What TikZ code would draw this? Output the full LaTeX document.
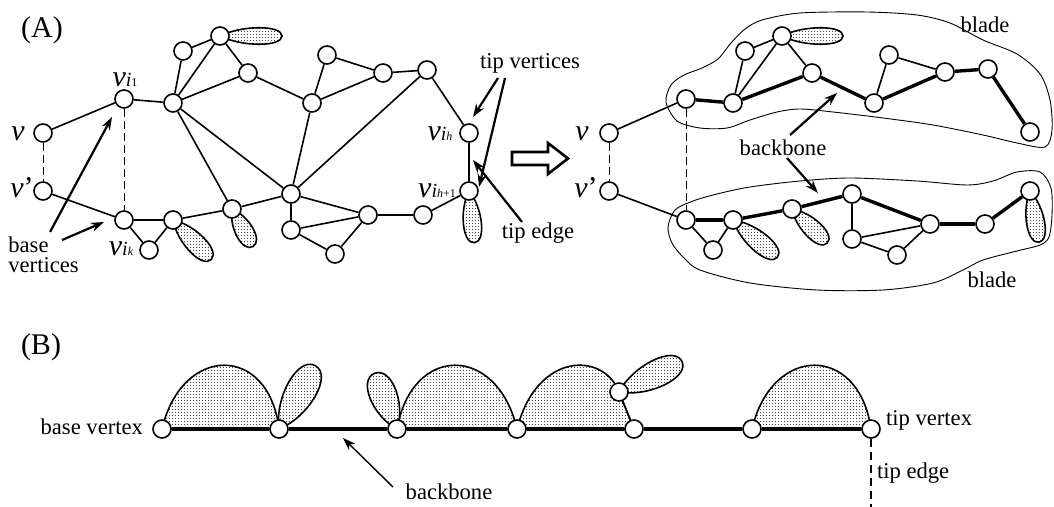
\documentclass[tikz,border=0pt]{standalone}
\usepackage{fontspec}
\setmainfont{Liberation Serif}
\usetikzlibrary{arrows.meta, backgrounds, patterns.meta}
\tikzstyle{pointer} = [line width=1.1pt,->,>={Stealth[length=6.5pt,width=4.5pt]}]
\tikzstyle{link} = [line width=0.8pt]
\tikzstyle{spine} = [line width=1.7pt]

\tikzdeclarepattern{
    name=finedots,
    type=uncolored,
    bottom left={(-0.1pt,-0.1pt)},
    top right={(1.6pt,1.6pt)},
    tile size={(1.5pt,1.5pt)},
    code={\fill (0.75pt,0.75pt) circle (0.28pt);}
}

\newcommand{\vbig}{\fontsize{15}{15}\selectfont\itshape}
\newcommand{\vsub}[1]{{\vbig v}{\fontsize{10}{10}\selectfont\itshape i}{\fontsize{6}{6}\selectfont #1}}
\newcommand{\petal}[4]{%
    \begin{scope}[shift={(#1.center)}, rotate=#2]
        \draw[blob] (0,0) .. controls (0.35*#3,#4) and (#3,#4) .. (#3,0)
            .. controls (#3,-#4) and (0.35*#3,-#4) .. (0,0) -- cycle;
    \end{scope}}

\begin{document}
\begin{tikzpicture}
        [
            x=0.5pt, y=-0.5pt,
            vtx/.style={circle,draw=black,line width=0.8pt,fill=white,inner sep=0pt,minimum size=9pt},
            blob/.style={draw=black,line width=0.8pt,pattern=finedots,pattern color=black!70},
            dashlink/.style={line width=0.5pt,dash pattern=on 4pt off 2pt},
            blade/.style={line width=0.45pt},
            lbl/.style={font=\fontsize{11.3}{10}\selectfont},
        ]

    \useasboundingbox (0,0) rectangle (1054,507);

    % (A) left graph
    \foreach \n/\x/\y in {v/43/133, vp/43/191, a1/124/99, a2/173/103, a3/183/51, a4/220/36,
            a5/248/73, a6/312/103, a7/327/55, a8/383/73, a9/427/70, ah/469/133,
            b1/124/220, b2/173/220, b3/149/250, b4/232/209, b5/291/194, b6/291/230,
            b7/335/254, b8/368/215, b9/423/215, bh/469/191}
        \node[vtx] (\n) at (\x,\y) {};

    \foreach \s/\t in {v/a1, vp/b1, a1/a2, a2/a3, a2/a4, a2/a5, a3/a4, a4/a5, a5/a6,
            a6/a7, a7/a8, a6/a8, a8/a9, a9/ah, ah/bh, bh/b9, b9/b8, b8/b5, b8/b6,
            b8/b7, b6/b7, b5/b6, b5/b4, b4/b2, b2/b1, b1/b3, b3/b2, a2/b4, a2/b5,
            a6/b5, b5/a9}
        \draw[link] (\s) -- (\t);
    \draw[dashlink] (v) -- (vp);
    \draw[dashlink] (a1) -- (b1);

    % (A) right graph, two blades
    \foreach \n/\x/\y in {rv/609/133, rvp/609/191, c1/686/99, c2/733/103, c3/745/51,
            c4/782/36, c5/812/73, c6/874/103, c7/889/55, c8/945/72, c9/988/69,
            ch/1030/132, d1/686/220, d2/733/220, d3/713/250, d4/792/209, d5/852/194,
            d6/852/239, d7/897/255, d8/930/224, d9/985/224, dh/1030/191}
        \node[vtx] (\n) at (\x,\y) {};

    \foreach \s/\t in {rv/c1, rvp/d1, c2/c3, c2/c4, c3/c4, c4/c5, c6/c7, c7/c8,
            d1/d3, d3/d2, d5/d6, d6/d8, d6/d7, d7/d8}
        \draw[link] (\s) -- (\t);
    \foreach \s/\t in {c1/c2, c2/c5, c5/c6, c6/c8, c8/c9, c9/ch,
            d1/d2, d2/d4, d4/d5, d5/d8, d8/d9, d9/dh}
        \draw[spine] (\s) -- (\t);
    \draw[dashlink] (rv) -- (rvp);
    \draw[dashlink] (c1) -- (d1);

    \draw[blade] plot[smooth cycle, tension=0.5] coordinates {(666,102) (671,85) (684,75)
        (702,68) (718,59) (731,43) (745,29) (762,20) (800,13) (867,12) (917,15) (950,23)
        (983,40) (1017,54) (1040,74) (1050,100) (1052,130) (1045,147) (1017,143)
        (983,135) (933,125) (883,118) (833,112) (800,109) (777,112) (750,120)
        (727,128) (700,128) (677,121)};
    \draw[blade] plot[smooth cycle, tension=0.5] coordinates {(668,227) (675,210)
        (693,201) (717,194) (750,187) (800,181) (850,178) (917,181) (967,185)
        (993,181) (1017,172) (1040,172) (1051,188) (1052,215) (1049,237) (1040,245)
        (1017,251) (983,260) (963,270) (933,283) (883,290) (817,290) (750,283)
        (700,270) (683,257) (672,243)};

    % (B)
    \foreach \n/\x/\y in {p1/162/429, p2/279/429, p3/397/429, p4/517/429, p5/634/429,
            pm/619/392, p6/752/429, p7/871/429}
        \node[vtx] (\n) at (\x,\y) {};
    \foreach \s/\t in {p1/p2, p2/p3, p3/p4, p4/p5, p5/p6, p6/p7}
        \draw[spine] (\s) -- (\t);
    \draw[link] (pm) -- (p5);
    \coordinate (tipfoot) at (871,507);
    \draw[line width=0.9pt,dash pattern=on 4pt off 2.5pt] (p7) -- (tipfoot);

    \begin{pgfonlayer}{background}
        \petal{a4}{0}{62}{11}
        \petal{b2}{-46}{55}{13}
        \petal{b4}{-61}{43}{12}
        \petal{bh}{-84}{52}{12}
        \petal{c4}{0}{61}{11}
        \petal{d2}{-40}{58}{13}
        \petal{d4}{-44}{49}{12}
        \petal{dh}{-80}{52}{12}
        \petal{p2}{60}{73}{20}
        \petal{p3}{112}{60}{18}
        \petal{pm}{26}{70}{18}
        \draw[blob] (p1.center) .. controls +(20,-85) and +(-10,-85) .. (p2.center) -- cycle;
        \draw[blob] (p3.center) .. controls +(15,-85) and +(-20,-85) .. (p4.center) -- cycle;
        \draw[blob] (p4.center) .. controls +(20,-78) and +(-15,-40) .. (pm.center) -- (p5.center) -- cycle;
        \draw[blob] (p6.center) .. controls +(20,-85) and +(-12,-85) .. (p7.center) -- cycle;
    \end{pgfonlayer}

    % labels
    \node[font=\fontsize{15}{18}\selectfont] (tagA) at (42,30) {(A)};
    \node[font=\fontsize{15}{18}\selectfont] (tagB) at (41,347) {(B)};
    \node[anchor=base] (lv) at (18,141) {\vbig v};
    \node[anchor=base] (lvp) at (22,198) {\vbig v\upshape ’};
    \node[anchor=base] (lrv) at (582,141) {\vbig v};
    \node[anchor=base] (lrvp) at (586,198) {\vbig v\upshape ’};
    \node[anchor=base] (li1) at (125,87) {\vsub{1}};
    \node[anchor=base] (lik) at (121,256) {\vsub{\itshape k}};
    \node[anchor=base] (lih) at (440,141) {\vsub{\itshape h}};
    \node[anchor=base] (lih1) at (437,198) {\vsub{{\itshape h}+1}};

    \node[lbl,align=left,anchor=north west,inner sep=0pt] (basevs) at (8,236) {base\\vertices};
    \node[lbl] (tipvs) at (530,63) {tip vertices};
    \node[lbl] (tipe) at (538,233) {tip edge};
    \node[lbl] (bbA) at (783,148) {backbone};
    \node[lbl] (bladeup) at (985,25) {blade};
    \node[lbl] (bladedn) at (992,280) {blade};
    \node[lbl,anchor=east] (basev) at (150,427) {base vertex};
    \node[lbl] (bbB) at (449,492) {backbone};
    \node[lbl,anchor=west] (tipv) at (879,420) {tip vertex};
    \node[lbl,anchor=west] (tipeB) at (870,473) {tip edge};

    % pointers
    \coordinate (s1) at (50,232);  \coordinate (e1) at (112,117);
    \coordinate (s2) at (62,240);  \coordinate (e2) at (104,222);
    \coordinate (s3) at (498,78);  \coordinate (e3) at (473,117);
    \coordinate (s4) at (505,78);  \coordinate (e4) at (479,187);
    \coordinate (s5) at (522,222); \coordinate (e5) at (473,160);
    \coordinate (s6) at (790,135); \coordinate (e6) at (837,93);
    \coordinate (s7) at (787,158); \coordinate (e7) at (818,193);
    \coordinate (s8) at (393,487); \coordinate (e8) at (343,438);
    \foreach \i in {1,...,7}
        \draw[pointer] (s\i) -- (e\i);
    \draw[pointer,line width=0.7pt] (s8) -- (e8);

    \draw[line width=1.3pt,line join=miter] (512,152) -- (548,152) -- (548,143) -- (568,158.5)
        -- (548,174) -- (548,165) -- (512,165) -- cycle;
\end{tikzpicture}
\end{document}
